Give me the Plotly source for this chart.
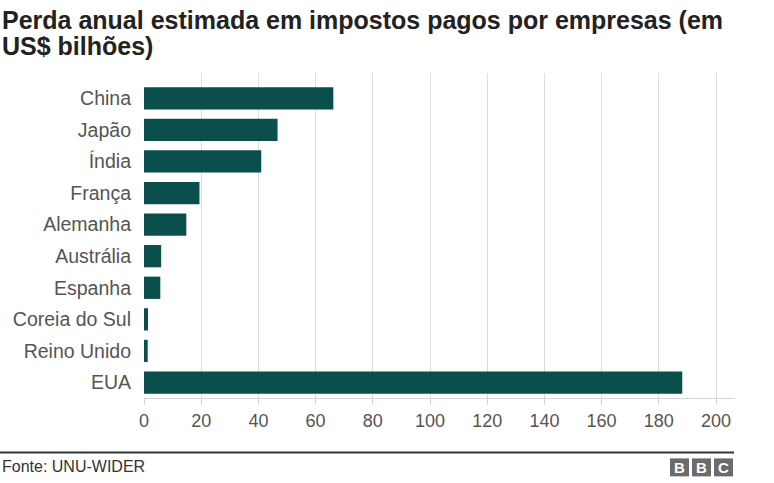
import plotly.graph_objects as go

countries = ["China", "Japão", "Índia", "França", "Alemanha", "Austrália",
             "Espanha", "Coreia do Sul", "Reino Unido", "EUA"]
values = [66.2, 46.7, 41.0, 19.4, 14.8, 6.0, 5.7, 1.4, 1.3, 188.2]
tick_vals = [0, 20, 40, 60, 80, 100, 120, 140, 160, 180, 200]

title_lines = ["Perda anual estimada em impostos pagos por empresas (em",
               "US$ bilhões)"]
source_text = "Fonte: UNU-WIDER"

W, H = 774, 483
L, R, T, B = 144, 735, 73, 398.5

def px(x):
    return (x - L) / (R - L)

def py(y):
    return (B - y) / (B - T)

fig = go.Figure(go.Bar(
    x=values, y=countries, orientation="h",
    marker=dict(color="#0a4f4b", line=dict(width=0)),
    hoverinfo="x+y",
))

fig.update_layout(
    width=W, height=H,
    margin=dict(l=L, r=W - R, t=T, b=H - B, pad=0),
    paper_bgcolor="white", plot_bgcolor="white",
    font=dict(family="Liberation Sans, Arial, sans-serif", color="#555555"),
    showlegend=False,
    bargap=0.295,
)

fig.update_xaxes(
    range=[0, (R - L) / 2.86], tickvals=tick_vals,
    showgrid=True, gridcolor="#dddddd", gridwidth=1,
    zeroline=False, showline=True, linecolor="#d4d4d4", linewidth=1,
    ticks="outside", ticklen=6, tickcolor="#d4d4d4",
    tickfont=dict(size=18, color="#555555"), fixedrange=True,
)
fig.update_yaxes(
    categoryorder="array", categoryarray=countries,
    range=[9.49, -0.80],
    showgrid=False, zeroline=False, showline=False, ticks="",
    tickfont=dict(size=19.5, color="#555555"), ticklabelstandoff=12,
    fixedrange=True,
)

# title (two lines, tight spacing)
for line, ymid in zip(title_lines, [19.5, 45.5]):
    fig.add_annotation(text="<b>" + line + "</b>", xref="paper", yref="paper",
                       x=px(0), y=py(ymid), xanchor="left", yanchor="middle",
                       align="left", showarrow=False,
                       font=dict(size=25, color="#222222",
                                 family="Liberation Sans, Arial, sans-serif"))
# footer line
fig.add_shape(type="line", xref="paper", yref="paper",
              x0=px(0), x1=px(734), y0=py(453), y1=py(453),
              line=dict(color="#333333", width=2))
fig.add_annotation(text=source_text, xref="paper", yref="paper",
                   x=px(0), y=py(467), xanchor="left", yanchor="middle",
                   showarrow=False,
                   font=dict(size=16, color="#333333",
                             family="Liberation Sans, Arial, sans-serif"))
# BBC logo
for i, letter in enumerate(["B", "B", "C"]):
    x0 = 670 + i * 22
    fig.add_shape(type="rect", xref="paper", yref="paper",
                  x0=px(x0), x1=px(x0 + 19), y0=py(477), y1=py(459),
                  fillcolor="#6b6b6b", line=dict(width=0))
    fig.add_annotation(text="<b>" + letter + "</b>", xref="paper", yref="paper",
                       x=px(x0 + 9.5), y=py(468), xanchor="center",
                       yanchor="middle", showarrow=False,
                       font=dict(size=15, color="white",
                                 family="Liberation Sans, Arial, sans-serif"))

fig.write_html("out.html", config={"displayModeBar": False},
               post_script="document.body.style.margin='0px';")
